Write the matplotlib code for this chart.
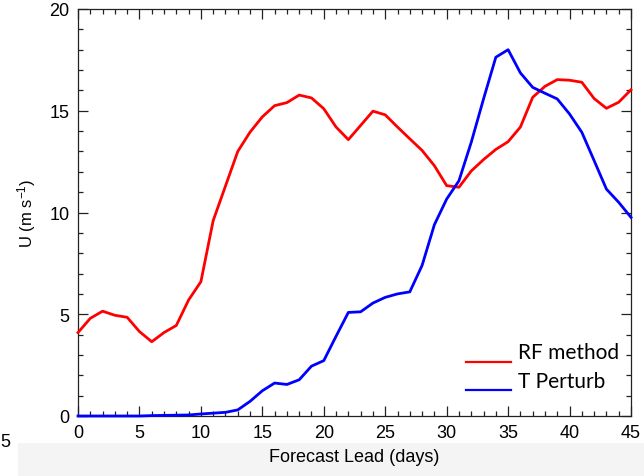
"""
U wind at forecast lead: RF method vs T perturbation.
"""

import matplotlib
matplotlib.use("Agg")
import matplotlib.pyplot as plt
from matplotlib.patches import Rectangle
from matplotlib.ticker import MultipleLocator
import numpy as np

days = np.arange(0, 46)

rf_method = [
    4.1, 4.8, 5.15, 4.95, 4.85, 4.15, 3.65, 4.1, 4.45, 5.7,
    6.6, 9.6, 11.3, 13.0, 13.95, 14.7, 15.25, 15.4, 15.77, 15.63,
    15.1, 14.2, 13.58, 14.28, 14.98, 14.8, 14.2, 13.62, 13.05, 12.3,
    11.32, 11.24, 12.04, 12.6, 13.1, 13.48, 14.2, 15.66, 16.2, 16.53,
    16.5, 16.4, 15.6, 15.12, 15.42, 16.03,
]

t_perturb = [
    0.0, 0.0, 0.0, 0.0, 0.0, 0.0, 0.02, 0.03, 0.04, 0.05,
    0.1, 0.14, 0.18, 0.3, 0.72, 1.24, 1.62, 1.55, 1.78, 2.45,
    2.72, 3.92, 5.09, 5.12, 5.55, 5.83, 6.0, 6.1, 7.4, 9.4,
    10.66, 11.56, 13.45, 15.58, 17.63, 18.0, 16.86, 16.15, 15.86, 15.58,
    14.84, 13.94, 12.55, 11.15, 10.5, 9.76,
]

series_labels = ["RF method", "T Perturb"]
series_colors = ["#ff0000", "#0000ff"]

plt.rcParams["font.family"] = ["Liberation Sans", "DejaVu Sans"]
plt.rcParams["mathtext.default"] = "regular"

fig = plt.figure(figsize=(6.44, 4.77), dpi=100)

# light grey strip behind the x label (from the source slide)
fig.add_artist(Rectangle((18 / 644, 0), 1, 33 / 477, transform=fig.transFigure,
                         facecolor="#f4f4f4", edgecolor="none", zorder=0))
fig.text(0.0, 0.072, "5", fontsize=13, ha="left", va="center")

ax = fig.add_axes([78 / 644, 60 / 477, 553 / 644, 407 / 477])
ax.set_facecolor("white")

for vals, lab, col in zip([rf_method, t_perturb], series_labels, series_colors):
    ax.plot(days, vals, color=col, lw=2.0, label=lab, clip_on=False, zorder=3)

ax.set_xlim(0, 45)
ax.set_ylim(0, 20)
ax.xaxis.set_major_locator(MultipleLocator(5))
ax.xaxis.set_minor_locator(MultipleLocator(1))
ax.yaxis.set_major_locator(MultipleLocator(5))
ax.yaxis.set_minor_locator(MultipleLocator(1))
ax.tick_params(which="both", direction="in", top=True, right=True, colors="#222222",
               labelcolor="black", width=0.9)
ax.tick_params(which="major", length=7, labelsize=13, pad=6)
ax.tick_params(which="minor", length=3.6)
for sp in ax.spines.values():
    sp.set_linewidth(0.9)
    sp.set_color("#222222")

ax.set_xlabel("Forecast Lead (days)", fontsize=13, labelpad=5)
ax.set_ylabel("U (m s$^{-1}$)", fontsize=12, labelpad=8)

# legend drawn by hand: handle lines sit a bit below the text, as on the slide
legend_y_line = [0.133, 0.064]
legend_y_text = [0.157, 0.086]
for lab, col, yl, yt in zip(series_labels, series_colors, legend_y_line, legend_y_text):
    ax.plot([0.702, 0.783], [yl, yl], color=col, lw=1.6, transform=ax.transAxes,
            clip_on=False)
    ax.text(0.796, yt, lab, transform=ax.transAxes, family="Lato", fontsize=15,
            ha="left", va="center")

fig.savefig("out.png", dpi=100)
